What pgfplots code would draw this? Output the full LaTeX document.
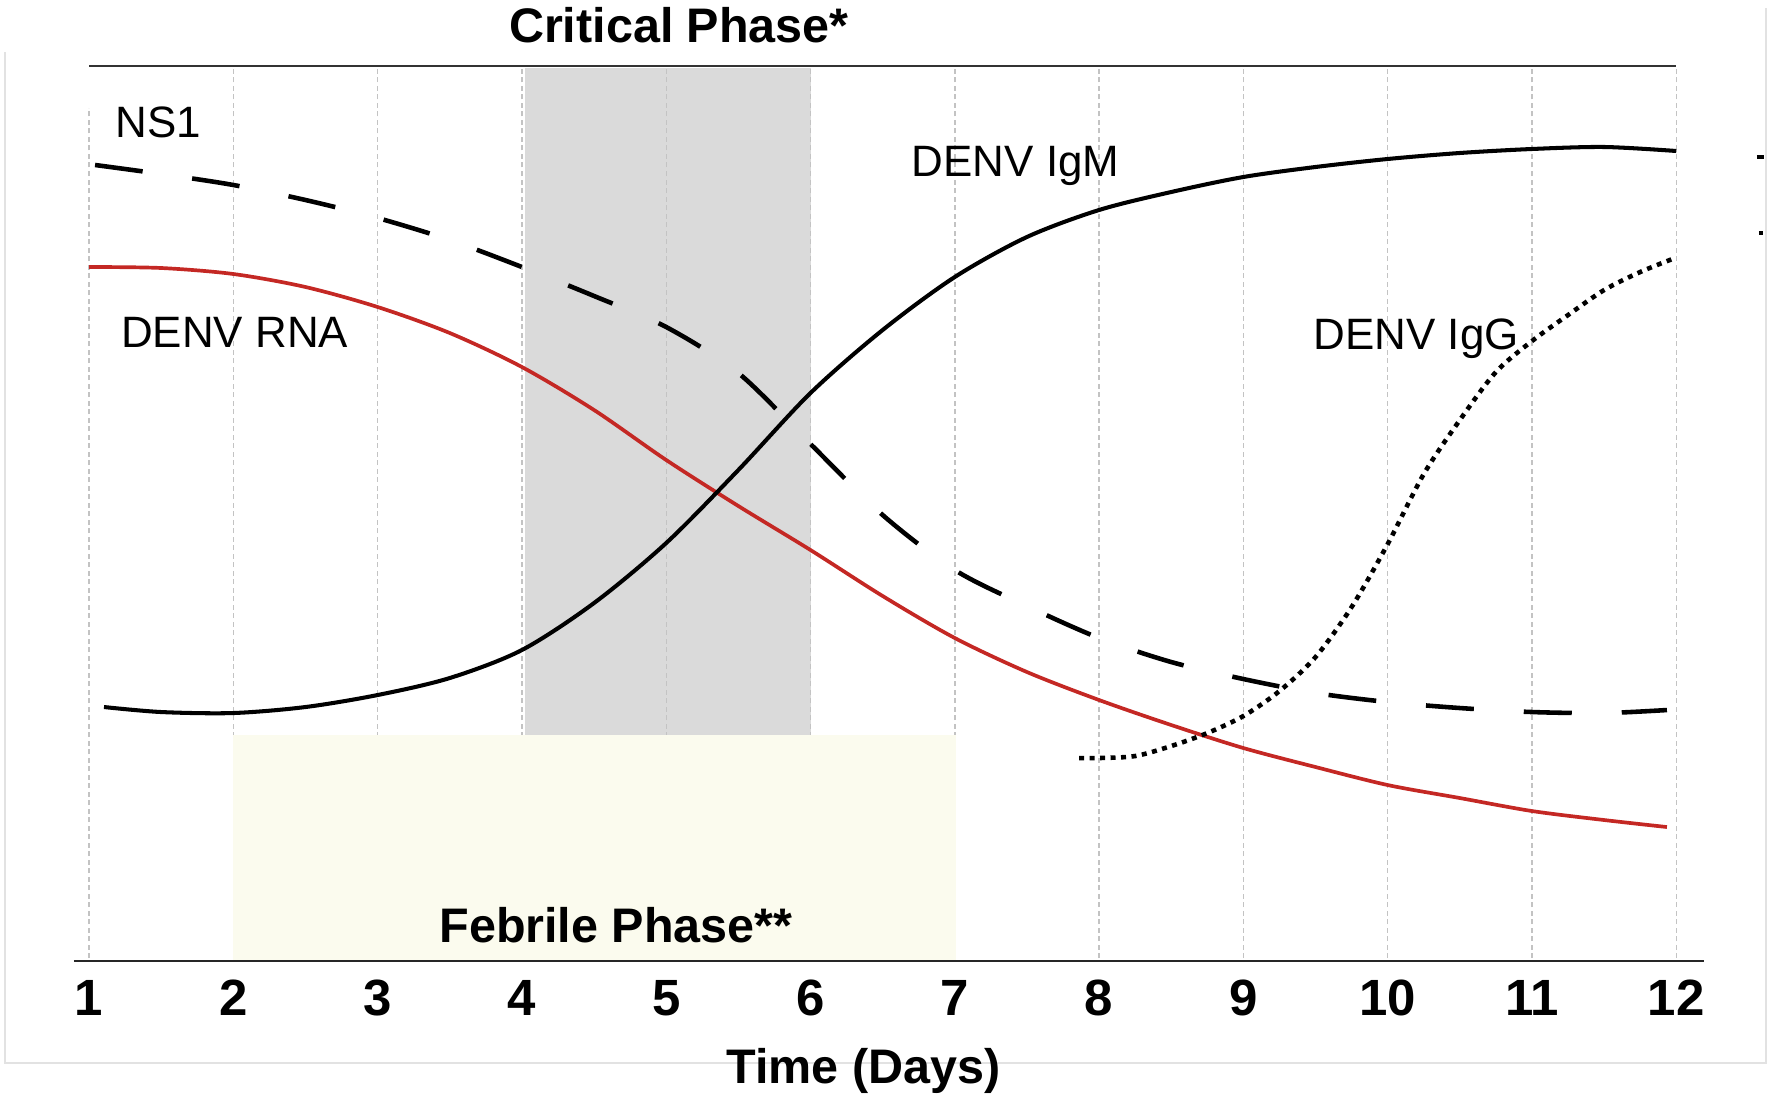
\documentclass[border=0pt]{standalone}
\usepackage{fontspec}
\setmainfont{Liberation Sans}
\usepackage{pgfplots}
\pgfplotsset{compat=1.18}

\definecolor{rnaRed}{RGB}{196,40,36}
\definecolor{critGrey}{RGB}{218,218,218}
\definecolor{febCream}{RGB}{251,251,238}
\definecolor{gridGrey}{RGB}{195,195,195}
\definecolor{frameGrey}{RGB}{226,226,226}

\begin{document}
\begin{tikzpicture}[
	lbl/.style = {font=\fontsize{12.5}{14}\selectfont, anchor=base west, inner sep=0pt},
	phase/.style = {font=\fontsize{13.8}{16}\selectfont\bfseries, anchor=base, inner sep=0pt},
]
\begin{axis}[
	x=1.443cm, y=0.1cm,
	xmin=1, xmax=12, ymin=0, ymax=89.5,
	axis x line=bottom, axis y line=none,
	x axis line style={draw=none},
	xtick={1,...,12}, major tick length=0pt,
	/pgf/number format/assume math mode=true,
	xticklabel style={font=\fontsize{14.5}{16}\selectfont\bfseries, anchor=base, inner sep=0pt, yshift=-0.54cm},
	clip=false,
	every axis plot/.append style={no markers},
]
% page extent
\path (axis cs:0.3832,-14.2) rectangle (axis cs:12.6632,96.1);

% outer frame
\addplot[frameGrey, line width=0.5pt] coordinates {(0.42,90.9) (0.42,-10.2) (12.62,-10.2) (12.62,95.3)};

% critical phase band
\addplot[fill=critGrey, draw=none] coordinates {(4.022,22.5) (6,22.5) (6,89.3) (4.022,89.3)} -- cycle;

% grid
\addplot[gridGrey, line width=0.4pt, dash pattern=on 0.05cm off 0.035cm] coordinates {(1,0.3) (1,85.3)};
\pgfplotsinvokeforeach{2,...,12}{
	\addplot[gridGrey, line width=0.4pt, dash pattern=on 0.05cm off 0.035cm] coordinates {(#1,0.3) (#1,89.5)};
}

% febrile phase band
\addplot[fill=febCream, draw=none] coordinates {(2,0.1) (7.008,0.1) (7.008,22.6) (2,22.6)} -- cycle;

% top and bottom rules
\addplot[black!80, line width=0.6pt] coordinates {(1,89.5) (12,89.5)};
\addplot[black!85, line width=0.75pt] coordinates {(0.896,0) (12.192,0)};

% DENV RNA
\addplot[rnaRed, line width=1.05pt, smooth] coordinates {
(1.0,69.4) (1.5,69.3) (2.0,68.7) (2.5,67.4) (3.0,65.4) (3.5,62.8)
(4.0,59.4) (4.5,55.1) (5.0,50.1) (5.5,45.5) (6.0,41.1) (6.5,36.5)
(7.0,32.3) (7.5,28.9) (8.0,26.1) (8.5,23.6) (9.0,21.3) (9.5,19.4)
(10.0,17.6) (10.5,16.3) (11.0,15.0) (11.5,14.1) (11.935,13.4)
};

% NS1
\addplot[black, line width=1.3pt, smooth, dash pattern=on 0.48cm off 0.50cm] coordinates {
(1.042,79.6) (1.5,78.7) (2.0,77.6) (2.5,76.1) (3.0,74.3) (3.5,72.1)
(4.0,69.4) (4.5,66.5) (5.0,63.4) (5.5,58.8) (6.0,51.7) (6.5,44.6)
(7.0,39.1) (7.5,35.5) (8.0,32.3) (8.5,29.9) (9.0,28.2) (9.5,26.8)
(10.0,25.9) (10.5,25.3) (11.0,24.9) (11.5,24.8) (11.935,25.1)
};

% DENV IgM
\addplot[black, line width=1.15pt, smooth] coordinates {
(1.104,25.4) (1.5,24.9) (2.0,24.8) (2.5,25.4) (3.0,26.6) (3.5,28.3)
(4.0,31.1) (4.5,35.8) (5.0,41.8) (5.5,49.1) (6.0,56.8) (6.5,63.1)
(7.0,68.4) (7.5,72.4) (8.0,75.1) (8.5,76.9) (9.0,78.4) (9.5,79.4)
(10.0,80.2) (10.5,80.8) (11.0,81.2) (11.5,81.4) (12.0,81.0)
};

% DENV IgG
\addplot[black, line width=1.3pt, smooth, dash pattern=on 0.05cm off 0.055cm] coordinates {
(7.861,20.3) (8.0,20.3) (8.25,20.5) (8.5,21.5) (8.75,22.8) (9.0,24.5)
(9.25,27.0) (9.5,30.4) (9.75,35.4) (10.0,41.7) (10.25,48.7) (10.5,54.1)
(10.75,58.9) (11.0,62.0) (11.25,64.6) (11.5,67.1) (11.75,68.9) (11.991,70.3)
};

% stray legend marks at the right edge
\addplot[black, line width=1.4pt] coordinates {(12.558,80.4) (12.611,80.4)};
\addplot[black, line width=1.4pt] coordinates {(12.573,72.8) (12.601,72.8)};

% labels
\node[lbl] at (axis cs:1.180,82.3) {NS1};
\node[lbl] at (axis cs:1.218,61.4) {DENV RNA};
\node[lbl] at (axis cs:6.697,78.4) {DENV IgM};
\node[lbl] at (axis cs:9.482,61.2) {DENV IgG};

\node[phase] at (axis cs:5.088,91.8) {Critical Phase*};
\node[phase] at (axis cs:4.652,1.9) {Febrile Phase**};
\node[phase] at (axis cs:6.368,-12.2) {Time (Days)};
\end{axis}
\end{tikzpicture}
\end{document}
